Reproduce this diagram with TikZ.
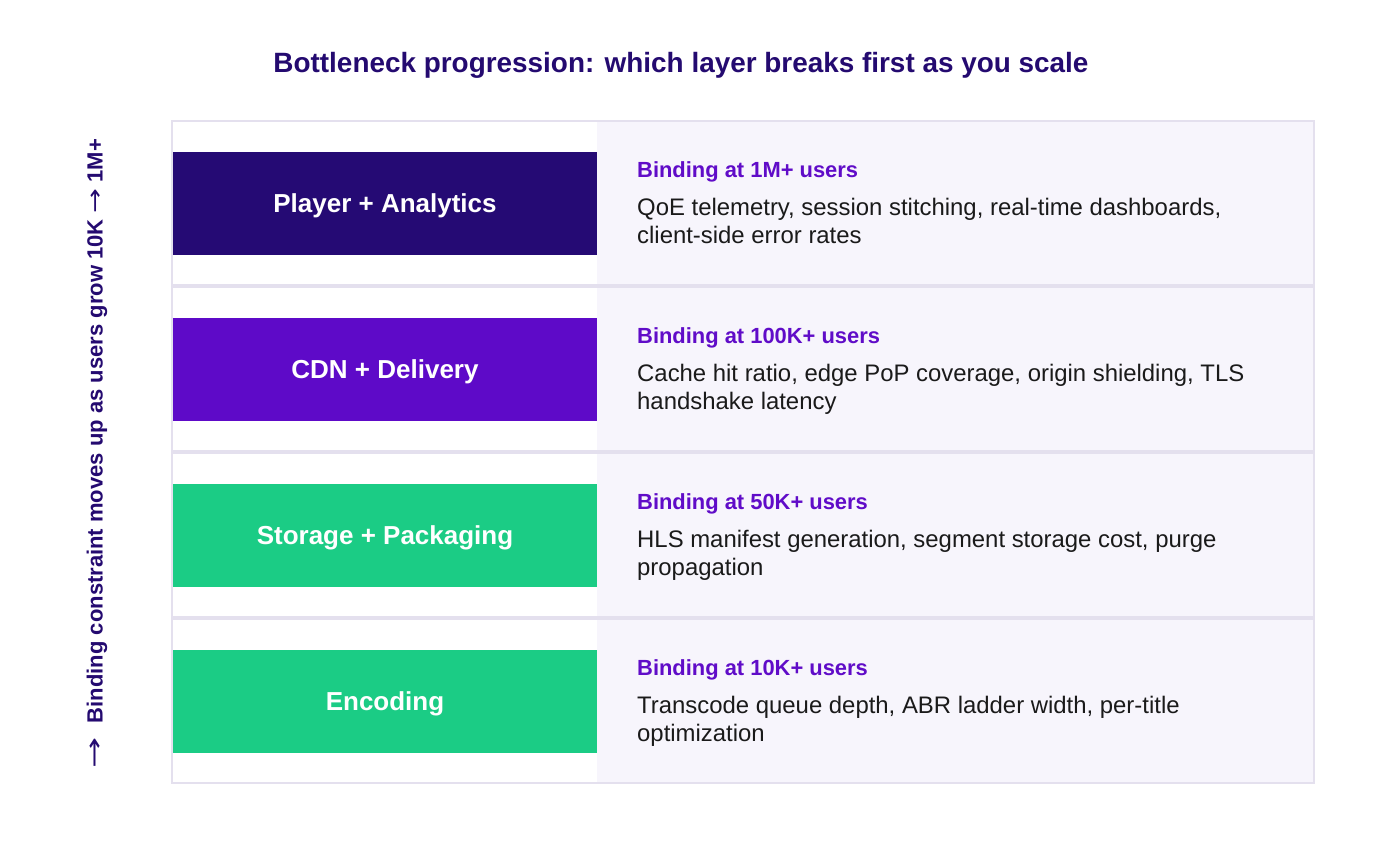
\documentclass[tikz,border=0pt]{standalone}
\usepackage{graphicx}
\usepackage{fontspec}
\setmainfont{Liberation Sans}
\newfontfamily\arrowfont{DejaVu Sans}
\definecolor{titleink}{RGB}{36,10,112}
\definecolor{bandplayer}{RGB}{37,10,116}
\definecolor{bandcdn}{RGB}{94,10,200}
\definecolor{bandgreen}{RGB}{27,204,133}
\definecolor{headink}{RGB}{96,12,200}
\definecolor{bodyink}{RGB}{26,26,26}
\definecolor{rule}{RGB}{228,224,238}
\definecolor{panelfill}{RGB}{247,245,252}
\begin{document}
\begin{tikzpicture}[x=1pt,y=-1pt]
 	\def \titleht{63}
 	\def \rowoneht{203}
 	\def \rowtwoht{369}
 	\def \rowthreeht{535}
 	\def \rowfourht{701}
 	\def \textcol{637}

 	\tikzstyle{cell}=[rectangle,draw=rule,line width=2pt,minimum width=1142pt,minimum height=164pt,inner sep=0pt]
 	\tikzstyle{panel}=[rectangle,fill=panelfill,minimum width=716pt,minimum height=164pt,inner sep=0pt]
 	\tikzstyle{band}=[rectangle,minimum width=424pt,minimum height=103pt,inner sep=0pt,text height=18.7pt,text depth=0pt,text=white,font=\fontsize{26}{30}\selectfont\bfseries]
 	% labels
 	\tikzstyle{head}=[anchor=base west,inner sep=0pt,text=headink,font=\fontsize{21.9}{26}\selectfont\bfseries]
 	\tikzstyle{body}=[anchor=north west,inner sep=0pt,align=left,text=bodyink,font=\fontsize{23.9}{27.5}\selectfont]

 	\useasboundingbox (0,0) rectangle (1396,840);

 	\node[text height=20pt,text depth=0pt,text=titleink,font=\fontsize{27.9}{32}\selectfont\bfseries] (title) at (681,\titleht) {Bottleneck progression: which layer breaks first as you scale};
 	\node[rotate=90,inner sep=0pt,text=titleink,font=\fontsize{22}{26}\selectfont\bfseries] (axis) at (97,453.5) {{\arrowfont\mdseries\fontsize{24}{24}\selectfont\scalebox{1.55}[1]{→}}\hspace{14pt}Binding constraint moves up as users grow 10K {\arrowfont\mdseries\scalebox{1.35}[1]{→}} 1M+};

 	\node[panel] 	(p1)	at (955,\rowoneht)	{};
 	\node[panel] 	(p2)	at (955,\rowtwoht)	{};
 	\node[panel] 	(p3)	at (955,\rowthreeht)	{};
 	\node[panel] 	(p4)	at (955,\rowfourht)	{};

 	\node[cell] 	(c1)	at (743,\rowoneht)	{};
 	\node[cell] 	(c2)	at (743,\rowtwoht)	{};
 	\node[cell] 	(c3)	at (743,\rowthreeht)	{};
 	\node[cell] 	(c4)	at (743,\rowfourht)	{};

 	\node[band,fill=bandplayer] 	(player)	at (385,\rowoneht)	{Player + Analytics};
 	\node[band,fill=bandcdn] 	(cdn)	at (385,\rowtwoht)	{CDN + Delivery};
 	\node[band,fill=bandgreen] 	(storage)	at (385,\rowthreeht)	{Storage + Packaging};
 	\node[band,fill=bandgreen] 	(encoding)	at (385,\rowfourht)	{Encoding};

 	\node[head] 	(h1)	at (\textcol,\rowoneht-26)	{Binding at 1M+ users};
 	\node[body] 	(b1)	at (\textcol,\rowoneht-5)	{QoE telemetry, session stitching, real-time dashboards,\\client-side error rates};
 	\node[head] 	(h2)	at (\textcol,\rowtwoht-26)	{Binding at 100K+ users};
 	\node[body] 	(b2)	at (\textcol,\rowtwoht-5)	{Cache hit ratio, edge PoP coverage, origin shielding, TLS\\handshake latency};
 	\node[head] 	(h3)	at (\textcol,\rowthreeht-26)	{Binding at 50K+ users};
 	\node[body] 	(b3)	at (\textcol,\rowthreeht-5)	{HLS manifest generation, segment storage cost, purge\\propagation};
 	\node[head] 	(h4)	at (\textcol,\rowfourht-26)	{Binding at 10K+ users};
 	\node[body] 	(b4)	at (\textcol,\rowfourht-5)	{Transcode queue depth, ABR ladder width, per-title\\optimization};
\end{tikzpicture}
\end{document}
